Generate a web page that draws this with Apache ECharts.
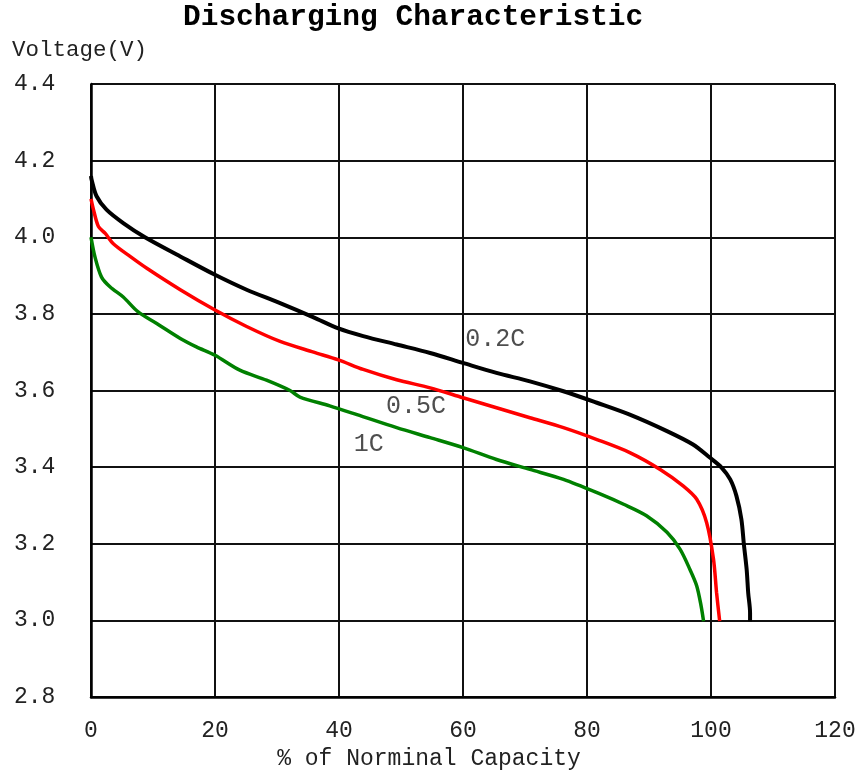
<!DOCTYPE html>
<html>
<head>
<meta charset="utf-8">
<script src="https://cdn.jsdelivr.net/npm/echarts@6/dist/echarts.min.js"></script>
<style>
  html, body { margin: 0; padding: 0; background: #fff; }
  #chart { width: 859px; height: 775px; }
</style>
</head>
<body>
<div id="chart"></div>
<script>
// 0.2C discharge (black)
const cap02 = [0, 0.1, 0.9, 2.5, 5.2, 8.7, 14.4, 20, 25.1, 30.5, 35.9, 39.9, 43.9, 49.3, 54.7, 60, 65.4, 70.8, 76.2, 81.6, 86.9, 92.9, 97.1, 99.8, 101.7, 103.1, 104.1, 104.9, 105.3, 105.75, 106.0, 106.3, 106.3];
const volt02 = [4.16, 4.15, 4.107, 4.072, 4.037, 4.0, 3.95, 3.902, 3.863, 3.828, 3.791, 3.762, 3.742, 3.72, 3.698, 3.672, 3.646, 3.624, 3.598, 3.568, 3.537, 3.494, 3.459, 3.425, 3.399, 3.368, 3.325, 3.264, 3.199, 3.133, 3.072, 3.02, 2.998];
// 0.5C discharge (red)
const cap05 = [0, 0.4, 1.2, 2.3, 3.6, 6.3, 9.0, 14.4, 20, 25.1, 30.5, 35.9, 39.9, 43.9, 49.3, 54.7, 60, 65.4, 70.8, 76.2, 81.6, 86.9, 91.8, 95.5, 97.7, 99.3, 100.4, 100.9, 101.4];
const volt05 = [4.10, 4.072, 4.028, 4.01, 3.983, 3.95, 3.919, 3.863, 3.81, 3.767, 3.728, 3.700, 3.680, 3.655, 3.628, 3.607, 3.581, 3.555, 3.529, 3.503, 3.472, 3.438, 3.394, 3.351, 3.316, 3.255, 3.16, 3.072, 2.998];
// 1C discharge (green)
const cap1 = [0, 0.65, 1.7, 3.1, 5.2, 7.6, 10.6, 14.4, 17.0, 20, 24, 28.3, 32.1, 33.7, 38.5, 42.9, 49.3, 54.7, 60, 65.4, 70.8, 76.2, 82.1, 85.9, 89.6, 92.9, 95.0, 96.6, 97.7, 98.4, 98.8];
const volt1 = [4.0, 3.948, 3.896, 3.87, 3.844, 3.805, 3.775, 3.736, 3.714, 3.692, 3.653, 3.627, 3.60, 3.583, 3.56, 3.537, 3.503, 3.477, 3.451, 3.42, 3.394, 3.368, 3.33, 3.303, 3.273, 3.23, 3.186, 3.133, 3.09, 3.038, 2.998];

// curve labels: [capacity, voltage, text]
const curveLabels = [[65.2, 3.733, '0.2C'], [52.4, 3.558, '0.5C'], [44.8, 3.459, '1C']];

const FONT = 'Liberation Mono';
const zip = (xs, ys) => xs.map((x, i) => [x, ys[i]]);

const chart = echarts.init(document.getElementById('chart'));

function curve(name, xs, ys, color, w) {
  return {
    name: name,
    type: 'line',
    data: zip(xs, ys),
    showSymbol: false,
    smooth: 0.3,
    lineStyle: { color: color, width: w },
    itemStyle: { color: color },
    z: 3
  };
}

chart.setOption({
  animation: false,
  backgroundColor: '#fff',
  title: [
    {
      text: 'Discharging Characteristic',
      left: 183, top: 3, padding: 0,
      textStyle: { fontFamily: FONT, fontWeight: 'bold', fontSize: 29.5, color: '#000' }
    },
    {
      text: 'Voltage(V)',
      left: 12, top: 39, padding: 0,
      textStyle: { fontFamily: FONT, fontWeight: 'normal', fontSize: 22.5, color: '#222' }
    }
  ],
  grid: { left: 91, right: 24, top: 84, bottom: 77 },
  xAxis: {
    type: 'value',
    min: 0, max: 120, interval: 20,
    name: '% of Norminal Capacity',
    nameLocation: 'middle',
    nameGap: 50,
    nameTextStyle: { fontFamily: FONT, fontSize: 23, color: '#222', padding: [0, 68, 0, 0] },
    axisLine: { show: true, lineStyle: { color: '#000', width: 2.5 } },
    axisTick: { show: false },
    axisLabel: { fontFamily: FONT, fontSize: 23, color: '#222', margin: 22 },
    splitLine: { show: true, lineStyle: { color: '#111', width: 2 } }
  },
  yAxis: {
    type: 'value',
    min: 2.8, max: 4.4, interval: 0.2,
    axisLine: { show: true, lineStyle: { color: '#000', width: 2.5 } },
    axisTick: { show: false },
    axisLabel: {
      fontFamily: FONT, fontSize: 23, color: '#222',
      align: 'left', margin: 77,
      formatter: v => v.toFixed(1)
    },
    splitLine: { show: true, lineStyle: { color: '#111', width: 2 } }
  },
  series: [
    curve('0.2C', cap02, volt02, '#000000', 4),
    curve('0.5C', cap05, volt05, '#ff0000', 3.5),
    curve('1C', cap1, volt1, '#008000', 3.5),
    {
      name: 'labels',
      type: 'scatter',
      data: curveLabels,
      symbolSize: 1,
      itemStyle: { color: 'rgba(0,0,0,0)' },
      label: {
        show: true,
        position: 'inside',
        formatter: p => p.value[2],
        fontFamily: FONT, fontSize: 25, color: '#222'
      },
      silent: true,
      z: 4
    }
  ]
});
</script>
</body>
</html>
